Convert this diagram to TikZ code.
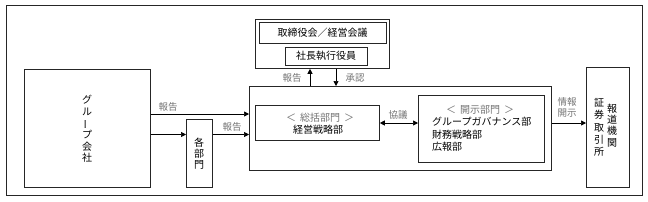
\documentclass[tikz,border=0pt]{standalone}
\usepackage{fontspec}
\usepackage{graphicx}
\setmainfont{Noto Sans CJK JP}
\usetikzlibrary{arrows.meta}
\newcommand{\vbar}{\rotatebox[origin=c]{90}{ー}}
\begin{document}
\begin{tikzpicture}[x=1pt,y=-1pt,
  box/.style={draw=black!85, line width=0.8pt, inner sep=0pt, anchor=north west},
  arr/.style={-{Triangle[length=5pt,width=5pt]}, line width=0.7pt},
  darr/.style={{Triangle[length=5pt,width=5pt]}-{Triangle[length=5pt,width=5pt]}, line width=0.7pt},
  lbl/.style={text=black!55, font=\fontsize{9.5}{11}\selectfont, inner sep=0pt, align=center},
  txt/.style={font=\fontsize{10}{12}\selectfont, inner sep=0pt},
  vtxt/.style={font=\fontsize{10}{11.6}\selectfont, inner sep=0pt, align=center}]
\useasboundingbox (0,0) rectangle (648,201);
% frame
\node[box, line width=1.2pt, minimum width=636pt, minimum height=190pt] (frame) at (6,5) {};
% boxes
\node[box, minimum width=134pt, minimum height=49pt] (board) at (255,19) {};
\node[box, minimum width=127pt, minimum height=21pt, txt] (torishimari) at (259,22) {};
\node[txt] (torishimaritxt) at (322.5,32.5) {取締役会／経営会議};
\node[box, minimum width=82pt, minimum height=18pt] (shacho) at (285,47) {};
\node[txt] (shachotxt) at (326,56) {社長執行役員};
\node[box, minimum width=302pt, minimum height=84pt] (main) at (249,86) {};
\node[box, minimum width=126pt, minimum height=118pt] (group) at (24,69) {};
\node[vtxt] (grouptxt) at (87,129) {グ\\ル\\\vbar\\プ\\会\\社};
\node[box, minimum width=26pt, minimum height=68pt] (kakubu) at (186,119) {};
\node[vtxt, font=\fontsize{10}{11}\selectfont] (kakubutxt) at (199,154) {各\\部\\門};
\node[box, minimum width=124pt, minimum height=35pt] (sokatsu) at (255,105) {};
\node[lbl, font=\fontsize{10}{11}\selectfont] (sokatsuhead) at (320,118) {＜\hspace{4pt}総括部門\hspace{4pt}＞};
\node[txt] (sokatsutxt) at (318,130) {経営戦略部};
\node[box, minimum width=126pt, minimum height=67pt] (kaiji) at (418,95) {};
\node[lbl, font=\fontsize{10}{11}\selectfont] (kaijihead) at (480,110) {＜\hspace{4pt}開示部門\hspace{4pt}＞};
\node[txt, anchor=west] (kaiji1) at (432,122) {グループガバナンス部};
\node[txt, anchor=west] (kaiji2) at (432,134.5) {財務戦略部};
\node[txt, anchor=west] (kaiji3) at (432,147) {広報部};
\node[box, minimum width=43pt, minimum height=120pt] (media) at (586,67) {};
\node[vtxt, font=\fontsize{10}{12.25}\selectfont] (mediatxt1) at (599,127.5) {証\\券\\取\\引\\所};
\node[vtxt, font=\fontsize{10}{11.4}\selectfont] (mediatxt2) at (612,125.5) {報\\道\\機\\関};
% arrow levels
\coordinate (xr) at (310,0);
\coordinate (xa) at (336,0);
\coordinate (ya) at (0,114);
\coordinate (yb) at (0,134.5);
\coordinate (yc) at (0,123);
\draw[arr] (main.north -| xr) -- (board.south -| xr);
\draw[arr] (board.south -| xa) -- (main.north -| xa);
\draw[arr] (group.east |- ya) -- (main.west |- ya);
\draw[arr] (group.east |- yb) -- (kakubu.west |- yb);
\draw[arr] (kakubu.east |- yb) -- (main.west |- yb);
\draw[darr] (sokatsu.east |- yc) -- (kaiji.west |- yc);
\draw[arr] (main.east |- yc) -- (media.west |- yc);
% labels
\node[lbl] (l1) at (292,78) {報告};
\node[lbl] (l2) at (355,78) {承認};
\node[lbl] (l3) at (168,107) {報告};
\node[lbl] (l4) at (232,127) {報告};
\node[lbl] (l5) at (398,115) {協議};
\node[lbl] (l6) at (567,107) {情報\\開示};
\end{tikzpicture}
\end{document}
